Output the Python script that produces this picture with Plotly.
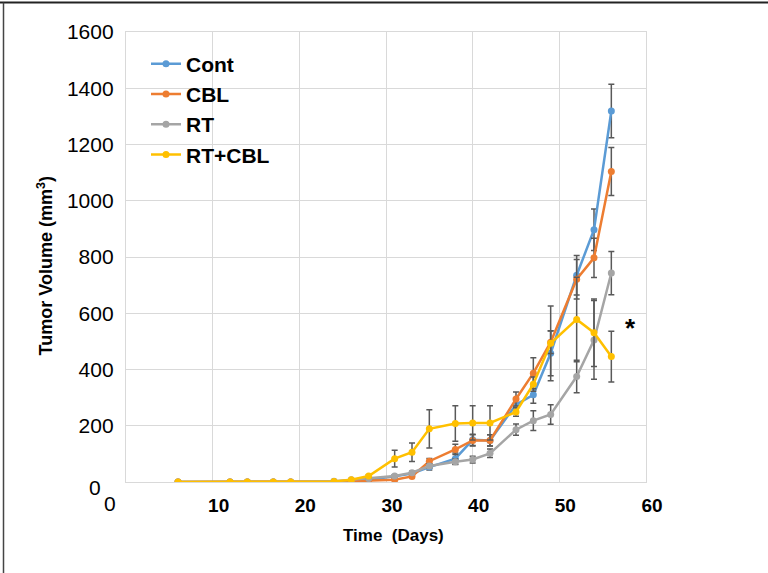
import plotly.graph_objects as go

days = [6, 12, 14, 17, 19, 24, 26, 28, 31, 33, 35, 38, 40, 42, 45, 47, 49, 52, 54, 56]

cont = [0, 0, 0, 0, 0, 2, 4, 8, 20, 30, 53, 83, 150, 148, 275, 310, 458, 735, 897, 1319]
cont_err = [0, 0, 0, 0, 0, 0, 2, 3, 5, 6, 10, 20, 20, 20, 25, 30, 80, 70, 74, 95]

cbl = [0, 0, 0, 0, 0, 1, 3, 6, 8, 20, 74, 116, 148, 148, 295, 387, 497, 721, 797, 1104]
cbl_err = [0, 0, 0, 0, 0, 0, 1, 2, 3, 4, 10, 18, 20, 20, 25, 55, 40, 70, 70, 85]

rt = [0, 0, 0, 0, 0, 3, 8, 12, 21, 33, 57, 72, 80, 102, 186, 218, 240, 375, 505, 743]
rt_err = [0, 0, 0, 0, 0, 0, 2, 3, 4, 5, 8, 10, 12, 15, 20, 35, 35, 58, 140, 77]

rtcbl = [0, 0, 0, 0, 0, 2, 8, 21, 83, 106, 189, 208, 210, 210, 249, 348, 493, 578, 531, 446]
rtcbl_err = [0, 0, 0, 0, 0, 0, 0, 5, 30, 33, 68, 63, 61, 61, 15, 25, 133, 150, 120, 90]

names = ["Cont", "CBL", "RT", "RT+CBL"]
colors = ["#5B9BD5", "#ED7D31", "#A5A5A5", "#FFC000"]
series = [(cont, cont_err), (cbl, cbl_err), (rt, rt_err), (rtcbl, rtcbl_err)]

x_ticks = [10, 20, 30, 40, 50, 60]
y_ticks = [200, 400, 600, 800, 1000, 1200, 1400, 1600]

FONT = "Arial, Liberation Sans, sans-serif"

# plot area in pixels
L, R, T, B = 126, 646, 31.5, 481.7
W, H = 768, 573


def px(xp):
    return (xp - L) / (R - L)


def py(yp):
    return (B - yp) / (B - T)


fig = go.Figure()
for (vals, errs), name, col in zip(series, names, colors):
    fig.add_trace(go.Scatter(
        x=days, y=vals, name=name, mode="lines+markers",
        line=dict(color=col, width=2.5),
        marker=dict(color=col, size=7),
        error_y=dict(type="data", array=errs, visible=True,
                     color="#595959", thickness=1.5, width=3),
    ))

fig.update_layout(
    width=W, height=H,
    margin=dict(l=L, r=W - R, t=T, b=H - B),
    paper_bgcolor="white", plot_bgcolor="white",
    font=dict(family=FONT, color="black"),
    showlegend=True,
    legend=dict(
        x=px(146), y=py(43), xanchor="left", yanchor="top",
        bgcolor="rgba(0,0,0,0)",
        font=dict(family=FONT, size=21, weight="bold", color="black"),
        tracegroupgap=0,
    ),
    xaxis=dict(
        range=[0, 60], tickvals=x_ticks,
        showgrid=True, gridcolor="#D9D9D9", gridwidth=1.3,
        showline=True, linecolor="#D9D9D9", linewidth=1.3, mirror=True,
        zeroline=False, ticks="",
        tickfont=dict(family=FONT, size=19, weight="bold", color="black"),
        ticklabelshift=6, ticklabelstandoff=6,
    ),
    yaxis=dict(
        range=[0, 1600], tickvals=y_ticks,
        showgrid=True, gridcolor="#D9D9D9", gridwidth=1.3,
        showline=True, linecolor="#D9D9D9", linewidth=1.3, mirror=True,
        zeroline=False, ticks="",
        tickfont=dict(family=FONT, size=21, color="black"),
        ticklabelstandoff=7,
    ),
)

annos = [
    dict(text="0", x=px(95), y=py(487), size=21, weight="normal", angle=0),
    dict(text="0", x=px(110), y=py(503), size=21, weight="normal", angle=0),
    dict(text="Tumor Volume (mm<sup>3</sup>)", x=px(45), y=py(266), size=18, weight="bold", angle=-90),
    dict(text="Time\u00a0 (Days)", x=px(393), y=py(535), size=17, weight="bold", angle=0),
    dict(text="*", x=px(630), y=py(328), size=26, weight="bold", angle=0),
]
for a in annos:
    fig.add_annotation(
        text=a["text"], x=a["x"], y=a["y"], xref="paper", yref="paper",
        xanchor="center", yanchor="middle", showarrow=False, textangle=a["angle"],
        font=dict(family=FONT, size=a["size"], weight=a["weight"], color="black"),
    )

# outer frame (top and left edges)
fig.add_shape(type="line", xref="paper", yref="paper",
              x0=px(0), x1=px(768), y0=py(2), y1=py(2),
              line=dict(color="#222222", width=2))
fig.add_shape(type="line", xref="paper", yref="paper",
              x0=px(3.5), x1=px(3.5), y0=py(2), y1=py(573),
              line=dict(color="#444444", width=1.5))

fig.write_html("out.html",
               config={"displayModeBar": False},
               post_script="document.body.style.margin='0';document.body.style.padding='0';")
